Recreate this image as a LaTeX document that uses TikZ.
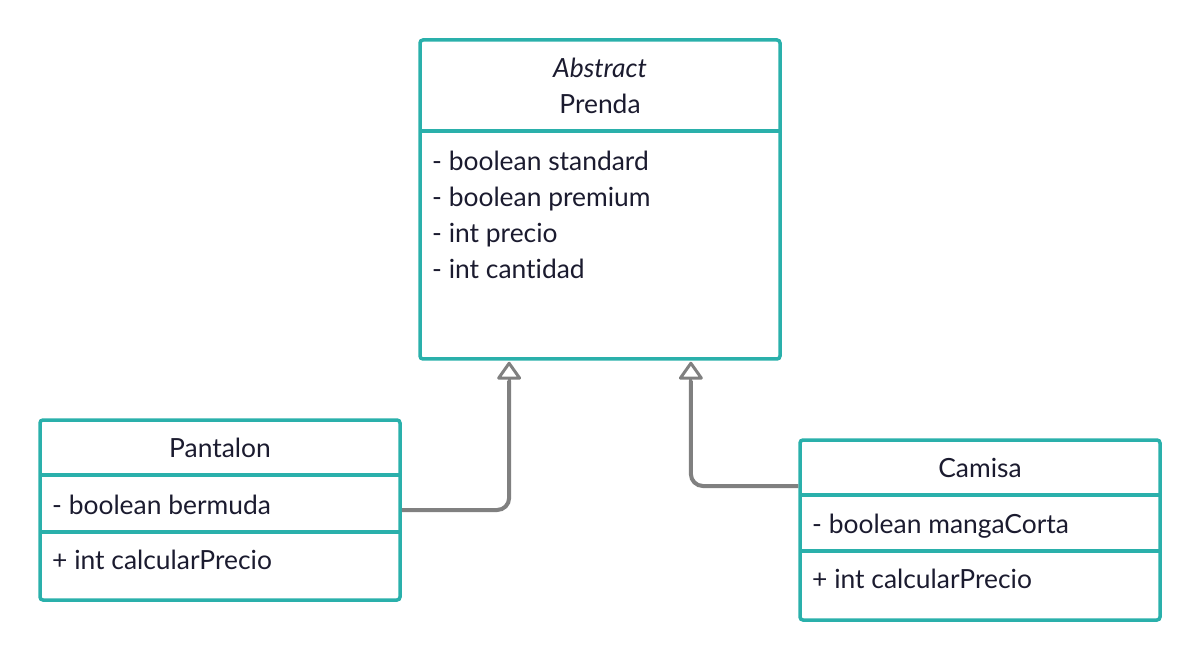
\documentclass[tikz,border=0pt]{standalone}
\usepackage{fontspec}
\setmainfont{Lato}[Ligatures = NoCommon]
\usetikzlibrary{arrows.meta,calc,fit,positioning}
\definecolor{umlteal}{HTML}{2AB0AB}
\definecolor{umlgray}{HTML}{808080}
\definecolor{umlink}{HTML}{1B1B2F}
\tikzset{
    node distance = 0pt,
    part/.style = {minimum width = 360pt, inner sep = 0pt, outer sep = 0pt},
    classname/.style = {text = umlink, align = center, inner sep = 0pt},
    member/.style = {anchor = west, text = umlink, inner sep = 0pt, text height = 19pt, text depth = 6pt},
    umlbox/.style = {draw = umlteal, line width = 3.5pt, rounded corners = 3pt, inner sep = 0pt},
    divider/.style = {draw = umlteal, line width = 3.5pt},
    inherit/.style = {draw = umlgray, line width = 4pt, rounded corners = 12pt},
    hollowhead/.style = {draw = umlgray, line width = 3pt, -{Triangle[open, length = 19pt, width = 26pt, round]}}
}

\begin{document}
\begin{tikzpicture}[font=\fontsize{26.4pt}{36pt}\selectfont]
    \useasboundingbox (0,0) rectangle (1200pt,-660pt);

    % Prenda

    %%Nodes
    \node[part, minimum height = 91pt] (prendaname) at (600pt,-85.5pt) {};
    \node[part, minimum height = 228pt] (prendaattr) [below =of prendaname] {};
    \node[umlbox, fit = (prendaname)(prendaattr)] (prenda) {};
    \node[classname] (prendatitle) at (prendaname) {\textit{Abstract}\\Prenda};
    \node[member] (standard) at ([xshift = 12pt, yshift = -33pt]prendaattr.north west) {- boolean standard};
    \node[member] (premium) at ([yshift = -36pt]standard.west) {- boolean premium};
    \node[member] (precio) at ([yshift = -36pt]premium.west) {- int precio};
    \node[member] (cantidad) at ([yshift = -36pt]precio.west) {- int cantidad};
    \path[divider] (prendaattr.north west) -- (prendaattr.north east);

    % Pantalon

    %%Nodes
    \node[part, minimum height = 55pt] (pantalonname) at (220pt,-447.5pt) {};
    \node[part, minimum height = 57pt] (pantalonattr) [below =of pantalonname] {};
    \node[part, minimum height = 68pt] (pantalonops) [below =of pantalonattr] {};
    \node[umlbox, fit = (pantalonname)(pantalonops)] (pantalon) {};
    \node[classname] (pantalontitle) at (pantalonname) {Pantalon};
    \node[member] (bermuda) at ([xshift = 12pt, yshift = -4pt]pantalonattr.west) {- boolean bermuda};
    \node[member] (pantalonprecio) at ([xshift = 12pt, yshift = 3.5pt]pantalonops.west) {+ int calcularPrecio};
    \path[divider] (pantalonattr.north west) -- (pantalonattr.north east);
    \path[divider] (pantalonops.north west) -- (pantalonops.north east);

    % Camisa

    %%Nodes
    \node[part, minimum height = 55pt] (camisaname) at (980pt,-467.5pt) {};
    \node[part, minimum height = 56pt] (camisaattr) [below =of camisaname] {};
    \node[part, minimum height = 69pt] (camisaops) [below =of camisaattr] {};
    \node[umlbox, fit = (camisaname)(camisaops)] (camisa) {};
    \node[classname] (camisatitle) at (camisaname) {Camisa};
    \node[member] (mangacorta) at ([xshift = 12pt, yshift = -3.5pt]camisaattr.west) {- boolean mangaCorta};
    \node[member] (camisaprecio) at ([xshift = 12pt, yshift = 4pt]camisaops.west) {+ int calcularPrecio};
    \path[divider] (camisaattr.north west) -- (camisaattr.north east);
    \path[divider] (camisaops.north west) -- (camisaops.north east);

    % Generalization
    \coordinate (pantalonhook) at ($(prenda.south west)!0.25!(prenda.south east)$);
    \coordinate (camisahook) at ($(prenda.south west)!0.75!(prenda.south east)$);
    \coordinate (camisatail) at ([yshift = 44pt]camisa.west);
    \draw[inherit] (pantalon.east) -| ([yshift = -20pt]pantalonhook);
    \draw[inherit] (camisatail) -| ([yshift = -20pt]camisahook);
    \draw[hollowhead] ([yshift = -24pt]pantalonhook) -- ([yshift = -1pt]pantalonhook);
    \draw[hollowhead] ([yshift = -24pt]camisahook) -- ([yshift = -1pt]camisahook);
\end{tikzpicture}
\end{document}
